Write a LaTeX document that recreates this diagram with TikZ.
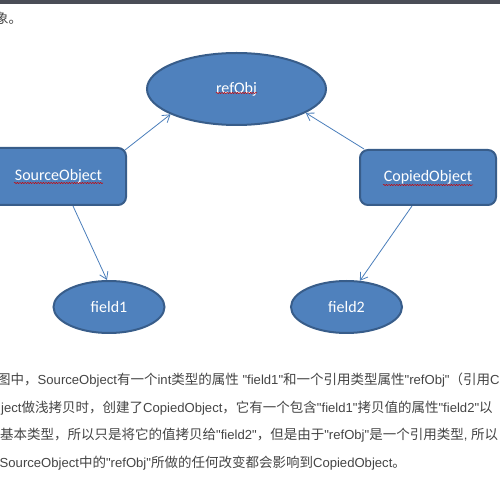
\documentclass[tikz,border=0pt]{standalone}
\usepackage{fontspec}
\setmainfont{Liberation Sans}[Ligatures=TeXOff]
\newfontfamily\cjk{Noto Sans CJK SC}
\newfontfamily\calfont{Carlito}
\usetikzlibrary{shapes.geometric,arrows.meta,decorations.pathmorphing}
\definecolor{boxfill}{HTML}{4F81BD}
\definecolor{boxline}{HTML}{385D8A}
\definecolor{arrowc}{HTML}{4A7EBB}
\definecolor{topbar}{HTML}{4A4D57}
\definecolor{bodytext}{HTML}{444444}
\newcommand\zh[1]{{\cjk\fontsize{13.5}{16}\selectfont #1}}
\begin{document}
\begin{tikzpicture}[x=1pt,y=1pt,
  objbox/.style={draw=boxline,fill=boxfill,line width=2pt,rounded corners=8pt,
    inner sep=0pt,text=white,font=\calfont\fontsize{16}{19}\selectfont},
  objell/.style={ellipse,draw=boxline,fill=boxfill,line width=2pt,
    inner sep=0pt,text=white,font=\calfont\fontsize{16}{19}\selectfont},
  conn/.style={draw=arrowc,line width=0.8pt,
    -{Straight Barb[length=7pt,width=9pt,line width=0.8pt]}},
  spell/.style={draw=red!80!black,line width=0.5pt,decorate,
    decoration={snake,segment length=2.6pt,amplitude=0.6pt}},
  para/.style={anchor=base west,inner sep=0pt,text=bodytext,
    font=\fontsize{13.1}{16}\selectfont}
]
\useasboundingbox (0,0) rectangle (500,503);
\clip (0,0) rectangle (500,503);
\fill[topbar] (0,498.7) rectangle (500,503);

\node[para] (top) at (-5,479) {\zh{象。}};

\node[objell,minimum width=179pt,minimum height=72pt] (refObj) at (236.5,414) {refObj};
\node[objbox,minimum width=135pt,minimum height=57pt] (src) at (58.5,326.5) {SourceObject};
\node[objbox,minimum width=136pt,minimum height=55pt] (cpy) at (428,325.5) {CopiedObject};
\node[objell,minimum width=111pt,minimum height=52pt] (f1) at (109,196) {field1\hspace{14pt}};
\node[objell,minimum width=111pt,minimum height=52pt] (f2) at (346.5,196) {field2\hspace{16pt}};

\draw[spell] ([shift={(-20.5,-4)}]refObj.center) -- ++(41,0);
\draw[spell] ([shift={(-44.5,-6.5)}]src.center) -- ++(89,0);
\draw[spell] ([shift={(-45,-7.5)}]cpy.center) -- ++(90,0);

\draw[conn] ([shift={(-2,-3)}]src.north east) -- (refObj.201);
\draw[conn] ([xshift=5pt]cpy.north west) -- (refObj.341);
\draw[conn] ([xshift=14.5pt]src.south) -- ([xshift=-2pt]f1.north);
\draw[conn] ([xshift=-16pt]cpy.south) -- (f2.63);

\node[para] (l1) at (-3,118) {\zh{图中，}SourceObject\zh{有一个}int\zh{类型的属性} "field1"\zh{和一个引用类型属性}"refObj"\zh{（引用}C};
\node[para] (l2) at (1,90) {ject\zh{做浅拷贝时，创建了}CopiedObject\zh{，它有一个包含}"field1"\zh{拷贝值的属性}"field2"\zh{以}};
\node[para] (l3) at (0,63) {\zh{基本类型，所以只是将它的值拷贝给}"field2"\zh{，但是由于}"refObj"\zh{是一个引用类型}, \zh{所以}};
\node[para] (l4) at (-0.5,35) {SourceObject\zh{中的}"refObj"\zh{所做的任何改变都会影响到}CopiedObject\zh{。}};
\end{tikzpicture}
\end{document}
